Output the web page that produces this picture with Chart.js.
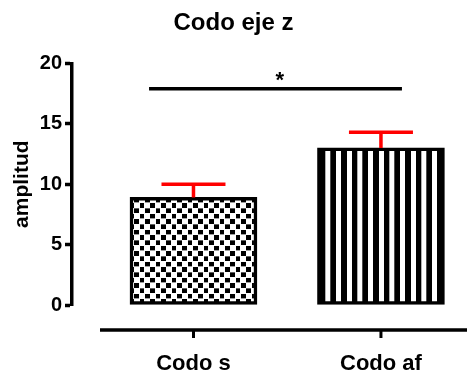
<!DOCTYPE html>
<html>
<head>
<meta charset="utf-8">
<script src="https://cdn.jsdelivr.net/npm/chart.js@4"></script>
<style>
  body { margin: 0; background: #fff; }
</style>
</head>
<body>
<canvas id="barChart" width="467" height="370"></canvas>
<script>
var categories = ["Codo s", "Codo af"];
var means = [8.9, 13.0];
var errors = [1.1, 1.3];
var yTicks = [0, 5, 10, 15, 20];
// comparison bar between the two groups
var sigFrom = 0.763;
var sigTo = 2.112;
var sigLevel = 17.9;
var sigLabel = "*";

var canvas = document.getElementById("barChart");
var ctx = canvas.getContext("2d");

// 32px tiles, drawn at 1/3 scale
function makePattern(draw) {
  var tile = document.createElement("canvas");
  tile.width = 32;
  tile.height = 32;
  var g = tile.getContext("2d");
  g.fillStyle = "#fff";
  g.fillRect(0, 0, 32, 32);
  g.fillStyle = "#000";
  draw(g);
  return ctx.createPattern(tile, "repeat");
}

var checker = makePattern(function (g) {
  g.fillRect(1, 1, 14, 14);
  g.fillRect(17, 17, 14, 14);
});
var stripes = makePattern(function (g) {
  g.fillRect(0, 0, 17, 32);
});
var patterns = [checker, stripes];
var patternShift = [4, 2.3];

var barData = categories.map(function (c, i) {
  return { x: i + 1, y: means[i] };
});

var decorations = {
  id: "decorations",
  beforeDatasetsDraw: function (chart) {
    var meta = chart.getDatasetMeta(0);
    meta.data.forEach(function (bar, i) {
      var left = bar.x - bar.width / 2 + patternShift[i];
      patterns[i].setTransform(new DOMMatrix().translate(left, bar.y).scale(1 / 3));
    });
  },
  afterDatasetsDraw: function (chart) {
    var c = chart.ctx;
    var xs = chart.scales.x;
    var ys = chart.scales.y;
    c.save();
    // upper error bars
    c.strokeStyle = "#ff0000";
    c.lineWidth = 3.5;
    means.forEach(function (m, i) {
      var x = xs.getPixelForValue(i + 1);
      var yTop = ys.getPixelForValue(m + errors[i]);
      var yBar = ys.getPixelForValue(m);
      c.beginPath();
      c.moveTo(x, yBar);
      c.lineTo(x, yTop);
      c.moveTo(x - 32, yTop);
      c.lineTo(x + 32, yTop);
      c.stroke();
    });
    // significance star
    c.fillStyle = "#000";
    c.font = "bold 22px Arial, 'Liberation Sans', sans-serif";
    c.textAlign = "center";
    c.textBaseline = "alphabetic";
    c.fillText(sigLabel, xs.getPixelForValue(1.46), ys.getPixelForValue(sigLevel) - 2);
    c.restore();
  },
  afterDraw: function (chart) {
    var c = chart.ctx;
    var xs = chart.scales.x;
    var y = chart.chartArea.bottom + 25;
    c.save();
    c.strokeStyle = "#000";
    c.lineWidth = 3.5;
    c.beginPath();
    c.moveTo(100, y);
    c.lineTo(chart.width, y);
    c.stroke();
    c.lineWidth = 3;
    categories.forEach(function (cat, i) {
      var x = xs.getPixelForValue(i + 1);
      c.beginPath();
      c.moveTo(x, y);
      c.lineTo(x, y + 8);
      c.stroke();
    });
    c.restore();
  },
};

var myChart = new Chart(ctx, {
  type: "bar",
  data: {
    datasets: [
      {
        type: "bar",
        data: barData,
        backgroundColor: patterns,
        borderColor: "#000",
        borderWidth: 3.5,
        borderSkipped: false,
        barThickness: 127,
      },
      {
        type: "line",
        data: [
          { x: sigFrom, y: sigLevel },
          { x: sigTo, y: sigLevel },
        ],
        borderColor: "#000",
        borderWidth: 3.5,
        pointRadius: 0,
      },
    ],
  },
  options: {
    responsive: false,
    animation: false,
    layout: { padding: 0 },
    plugins: {
      legend: { display: false },
      tooltip: { enabled: false },
      title: {
        display: true,
        text: "Codo eje z",
        color: "#000",
        font: { family: "Arial, 'Liberation Sans', sans-serif", size: 24, weight: "bold" },
        padding: { top: 9, bottom: 25.5 },
      },
    },
    scales: {
      x: {
        type: "linear",
        offset: false,
        min: 0.352,
        max: 2.459,
        afterBuildTicks: function (scale) {
          scale.ticks = categories.map(function (c, i) {
            return { value: i + 1 };
          });
        },
        afterFit: function (scale) {
          scale.height = 65;
        },
        grid: { display: false },
        border: { display: false },
        ticks: {
          autoSkip: false,
          maxRotation: 0,
          padding: 38,
          color: "#000",
          font: { family: "Arial, 'Liberation Sans', sans-serif", size: 22, weight: "bold" },
          callback: function (value) {
            return categories[value - 1];
          },
        },
      },
      y: {
        min: 0,
        max: 20,
        afterBuildTicks: function (scale) {
          scale.ticks = yTicks.map(function (v) {
            return { value: v };
          });
        },
        afterFit: function (scale) {
          scale.width = 72;
        },
        grid: {
          drawOnChartArea: false,
          tickLength: 7,
          tickWidth: 3.5,
          color: "#000",
        },
        border: { display: true, width: 3.5, color: "#000" },
        ticks: {
          padding: 3,
          color: "#000",
          font: { family: "Arial, 'Liberation Sans', sans-serif", size: 20, weight: "bold" },
        },
        title: {
          display: true,
          text: "amplitud",
          color: "#000",
          padding: { top: 10, bottom: 0 },
          font: { family: "Arial, 'Liberation Sans', sans-serif", size: 21, weight: "bold" },
        },
      },
    },
  },
  plugins: [decorations],
});
</script>
</body>
</html>
